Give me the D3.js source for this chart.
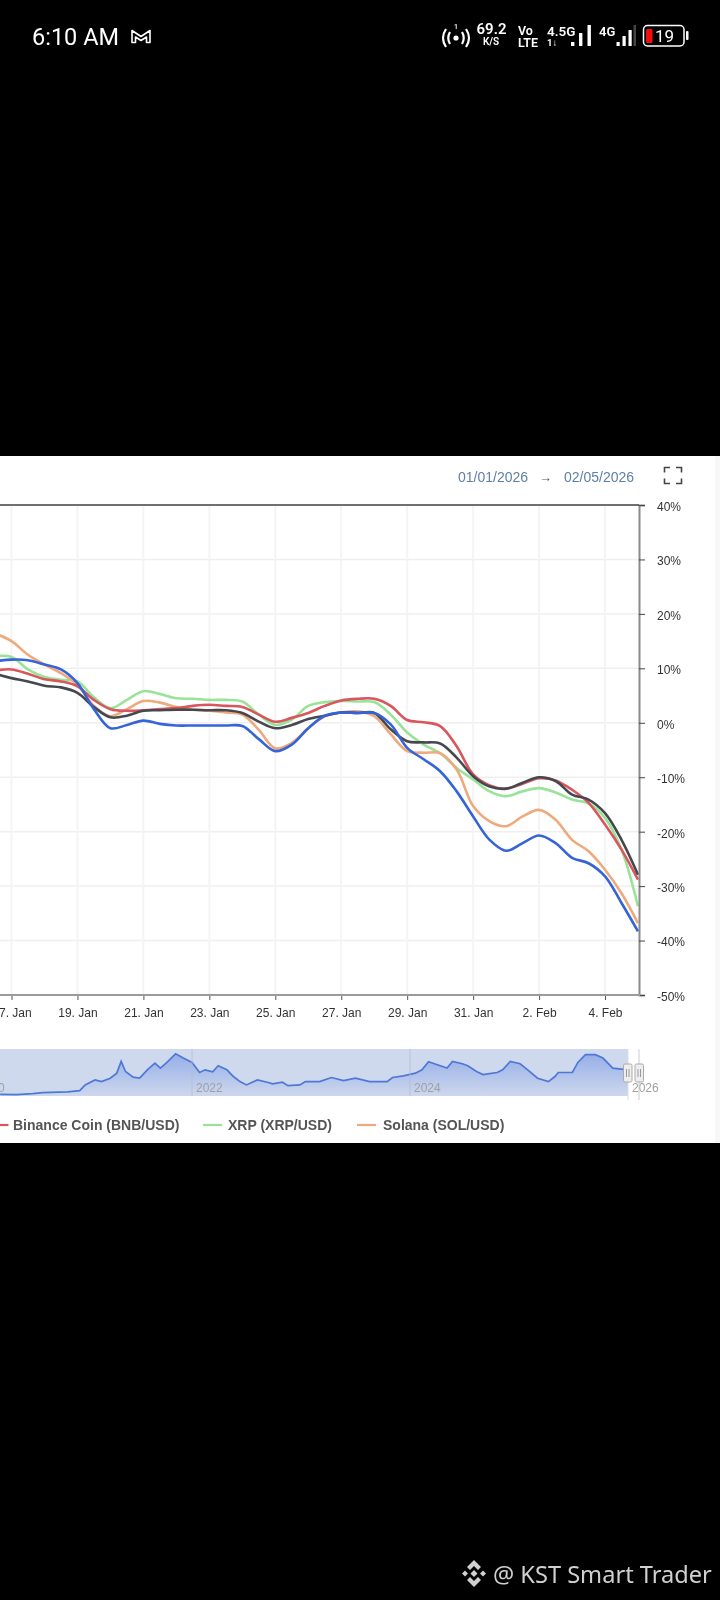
<!DOCTYPE html>
<html><head><meta charset="utf-8">
<style>html,body{margin:0;padding:0;background:#000;overflow:hidden}svg{display:block}</style>
<script src="https://cdn.jsdelivr.net/npm/d3@7"></script>
</head><body>
<svg id="c" width="720" height="1600" xmlns="http://www.w3.org/2000/svg"></svg>
<script>
// half-day samples, 16 Jan 12:00 to 5 Feb 00:00 (40 points)
const startDate = Date.UTC(2026,0,16,12);
const bitcoin = [9,8.2,7.6,6.8,6.5,5.5,2.9,1,1.3,2.2,2.3,2.4,2.4,2.3,2.3,1.8,0.2,-1,-0.4,0.7,1.3,1.9,1.8,
  1.8,-1.2,-3.4,-3.6,-3.8,-6.4,-9.8,-11.7,-12.1,-11,-10,-10.7,-13.2,-14.1,-16.6,-21.5,-27.9];
const ethereum = [11.3,11.6,11.5,10.7,9.8,7.3,2.5,-1,-0.4,0.4,-0.2,-0.5,-0.5,-0.5,-0.5,-0.6,-3,-5.2,-4,-1,1.3,1.9,1.8,
  1.8,-0.3,-4.6,-6.7,-8.9,-12.6,-17.2,-21.5,-23.5,-22.1,-20.7,-22.1,-24.8,-25.8,-28.2,-33.1,-38.3];
const binance = [9.6,9.8,9,8,7.6,6.7,4.2,2.5,2.2,2.3,2.5,2.7,3.1,3.3,3.1,2.9,1.5,0.2,0.9,1.8,3.1,4.1,4.4,
  4.4,3.1,0.5,0.1,-0.6,-4.3,-9.5,-11.5,-12.1,-11.2,-10.2,-10.6,-12.3,-14.7,-18.7,-23.3,-28.8];
const xrp = [12.2,12.1,9.8,8.4,7.9,7.6,4.7,2.7,4.2,5.8,5.3,4.5,4.4,4.2,4.2,3.9,1.5,-0.4,0.6,3.1,3.8,4,3.9,
  3.8,1.5,-1.8,-4,-5.6,-8.3,-10.4,-12.6,-13.5,-12.6,-12,-12.8,-14.1,-14.8,-17.5,-23.3,-33.7];
const solana = [16.4,15,12.5,10.7,9.1,7,3.1,1.2,2.5,4,3.7,2.9,2.4,2.2,1.9,1.5,-1.3,-4.7,-3.7,-1,1.2,1.9,2.1,
  1.2,-2.1,-5.2,-5.5,-5.6,-8.6,-15.3,-18.1,-19,-17.2,-16,-17.8,-21.5,-23.6,-27,-31.3,-36.8];
const yTicks = [40,30,20,10,0,-10,-20,-30,-40,-50];
const xTickDates = [[0,17],[0,19],[0,21],[0,23],[0,25],[0,27],[0,29],[0,31],[1,2],[1,4]];
// navigator overview (year, % of navigator height)
const navYears = [2020.24,2020.39,2020.54,2020.63,2020.86,2020.97,2021.02,2021.11,2021.17,2021.25,2021.31,2021.35,2021.39,2021.46,2021.52,2021.59,2021.66,2021.71,2021.77,2021.85,2021.92,2022,2022.07,2022.12,2022.19,2022.24,2022.32,2022.38,2022.44,2022.5,2022.6,2022.69,2022.74,2022.83,2022.88,2022.99,2023.04,2023.17,2023.28,2023.39,2023.5,2023.63,2023.79,2023.84,2023.94,2024.05,2024.11,2024.17,2024.25,2024.34,2024.39,2024.48,2024.53,2024.61,2024.67,2024.8,2024.85,2024.92,2025.01,2025.08,2025.17,2025.27,2025.33,2025.36,2025.49,2025.54,2025.61,2025.7,2025.77,2025.86,2025.94,2026];
const navValues = [3.6,2.9,5,7.1,8.6,11.4,23.6,34.3,30.7,37.9,48.6,73.6,52.1,40,37.9,55.7,70,59.3,71.4,90,80.7,71.4,50,55.7,51.4,64.3,55.7,41.4,30.7,23.6,34.3,29.3,25.7,29.3,22.1,23.6,30.7,30.7,39.3,32.9,37.9,30.7,30.7,39.3,42.9,48.6,55.7,72.9,66.4,59.3,73.6,68.6,64.3,52.1,45.7,50,55.7,73.6,68.6,55.7,37.9,30.7,41.4,50,50,71.4,87.9,87.9,80.7,59.3,57.1,55];
const navLabels = [2020,2022,2024,2026];
const legendNames = ["Binance Coin (BNB/USD)","XRP (XRP/USD)","Solana (SOL/USD)"];
const legendColors = ["#d9565e","#98e398","#eeaa7c"];

const svg = d3.select("#c");
const defs = svg.append("defs");
const blur = defs.append("filter").attr("id","soft").attr("x","-2%").attr("y","-2%").attr("width","104%").attr("height","104%");
blur.append("feGaussianBlur").attr("stdDeviation",0.6);
defs.append("clipPath").attr("id","plot").append("rect").attr("x",0).attr("y",505).attr("width",640).attr("height",490);
const grad = defs.append("linearGradient").attr("id","navG").attr("x1",0).attr("y1",0).attr("x2",0).attr("y2",1);
grad.append("stop").attr("offset",0).attr("stop-color","#7092e4").attr("stop-opacity",.6);
grad.append("stop").attr("offset",1).attr("stop-color","#7092e4").attr("stop-opacity",.02);

svg.append("rect").attr("width",720).attr("height",1600).attr("fill","#000");
const panel = svg.append("g").attr("filter","url(#soft)");
panel.append("rect").attr("x",-5).attr("y",456).attr("width",730).attr("height",687).attr("fill","#fff");
panel.append("rect").attr("x",715).attr("y",456).attr("width",10).attr("height",687).attr("fill","#f7f7f7");

const x = d3.scaleUtc().domain([Date.UTC(2026,0,17),Date.UTC(2026,1,5)]).range([11.5,638]);
const y = d3.scaleLinear().domain([-50,40]).range([995,505]);
const dates = d3.range(bitcoin.length).map(i=>new Date(startDate+i*12*3600e3));
const tickDates = xTickDates.map(d=>new Date(Date.UTC(2026,d[0],d[1])));
const font = "'Liberation Sans',Arial,sans-serif";

// grid
panel.append("g").selectAll("line").data(yTicks).join("line")
  .attr("x1",0).attr("x2",639).attr("y1",d=>y(d)).attr("y2",d=>y(d)).attr("stroke","#efefef").attr("stroke-width",1.5);
panel.append("g").selectAll("line").data(tickDates).join("line")
  .attr("x1",d=>x(d)).attr("x2",d=>x(d)).attr("y1",505).attr("y2",995).attr("stroke","#f4f4f4").attr("stroke-width",2);

// series
const line = d3.line().x((d,i)=>x(dates[i])).y(d=>y(d)).curve(d3.curveCatmullRom.alpha(0.5));
const seriesDraw = [[xrp,"#98e398"],[solana,"#eeaa7c"],[binance,"#d9565e"],[bitcoin,"#444a50"],[ethereum,"#3563d8"]];
panel.append("g").attr("clip-path","url(#plot)").selectAll("path").data(seriesDraw).join("path")
  .attr("d",d=>line(d[0])).attr("fill","none").attr("stroke",d=>d[1]).attr("stroke-width",2.6);

// axes
const yAxis = d3.axisRight(y).tickValues(yTicks).tickFormat(d=>d+"%").tickSize(6).tickPadding(12);
const gy = panel.append("g").attr("transform","translate(639,0)").call(yAxis);
gy.select(".domain").attr("stroke","#8a8a8a").attr("stroke-width",2);
gy.selectAll(".tick line").attr("stroke","#444");
gy.selectAll("text").attr("font-family",font).attr("font-size",12).attr("fill","#333").attr("dy","0.45em");
const xAxis = d3.axisBottom(x).tickValues(tickDates).tickFormat(d3.utcFormat("%-d. %b")).tickSize(5).tickPadding(8);
const gx = panel.append("g").attr("transform","translate(0,995)").call(xAxis);
gx.select(".domain").remove();
gx.selectAll(".tick line").attr("stroke","#555");
gx.selectAll("text").attr("font-family",font).attr("font-size",12).attr("fill","#333");
panel.append("line").attr("x1",0).attr("x2",640).attr("y1",995).attr("y2",995).attr("stroke","#9a9a9a").attr("stroke-width",2);
panel.append("line").attr("x1",0).attr("x2",639).attr("y1",505).attr("y2",505).attr("stroke","#444").attr("stroke-width",1.6);

// date range
const rangeColor = "#5f7fa8";
panel.append("text").text("01/01/2026").attr("x",458).attr("y",482).attr("font-family",font).attr("font-size",14).attr("fill",rangeColor);
panel.append("text").text("→").attr("x",539).attr("y",482).attr("font-family",font).attr("font-size",13).attr("fill","#556");
panel.append("text").text("02/05/2026").attr("x",564).attr("y",482).attr("font-family",font).attr("font-size",14).attr("fill",rangeColor);
panel.append("path").attr("d","M664.5 472.5V467.5H670 M676 467.5H681.5V472.5 M681.5 478.5V483.5H676 M670 483.5H664.5V478.5")
  .attr("fill","none").attr("stroke","#444").attr("stroke-width",1.6);

// navigator
const nx = d3.scaleLinear().domain([2020,2026]).range([-26,628]);
const ny = d3.scaleLinear().domain([0,100]).range([1096,1049]);
panel.append("rect").attr("x",0).attr("y",1049).attr("width",628).attr("height",47).attr("fill","#cfd9ee");
const nArea = d3.area().x((d,i)=>nx(navYears[i])).y0(1096).y1(d=>ny(d));
const nLine = d3.line().x((d,i)=>nx(navYears[i])).y(d=>ny(d));
panel.append("path").attr("d",nArea(navValues)).attr("fill","url(#navG)");
panel.append("path").attr("d",nLine(navValues)).attr("fill","none").attr("stroke","#4f77d6").attr("stroke-width",1.7);
panel.append("g").selectAll("line").data(navLabels.slice(1,3)).join("line")
  .attr("x1",d=>nx(d)).attr("x2",d=>nx(d)).attr("y1",1049).attr("y2",1096).attr("stroke","#b4bdcc").attr("stroke-width",.8);
panel.append("g").selectAll("text").data(navLabels).join("text").text(d=>d)
  .attr("x",d=>nx(d)+4).attr("y",1092).attr("font-family",font).attr("font-size",12).attr("fill","#a0a0a0");
panel.append("line").attr("x1",639).attr("x2",639).attr("y1",1049).attr("y2",1100).attr("stroke","#ccc");
panel.append("line").attr("x1",628).attr("x2",628).attr("y1",1049).attr("y2",1100).attr("stroke","#ddd");
[623.5,635].forEach(hx=>{
  panel.append("rect").attr("x",hx).attr("y",1064).attr("width",8.5).attr("height",18).attr("rx",1.5).attr("fill","#eee").attr("stroke","#aaa");
  panel.append("line").attr("x1",hx+3).attr("x2",hx+3).attr("y1",1069).attr("y2",1077).attr("stroke","#999");
  panel.append("line").attr("x1",hx+5.5).attr("x2",hx+5.5).attr("y1",1069).attr("y2",1077).attr("stroke","#999");
});

// legend
const legendLineX = [-10,203,357], legendTextX = [13,228,383];
legendNames.forEach((n,i)=>{
  panel.append("line").attr("x1",legendLineX[i]).attr("x2",i?legendLineX[i]+19:8.5).attr("y1",1125).attr("y2",1125).attr("stroke",legendColors[i]).attr("stroke-width",2.2);
  panel.append("text").text(n).attr("x",legendTextX[i]).attr("y",1130).attr("font-family",font).attr("font-size",14).attr("font-weight",700).attr("fill","#555");
});

// status bar
const st = svg.append("g").attr("fill","#fff");
const sf = "Roboto,sans-serif";
const T=(t,xx,yy,s,w,a)=>st.append("text").text(t).attr("x",xx).attr("y",yy).attr("font-family",sf).attr("font-size",s).attr("font-weight",w||400).attr("text-anchor",a||"start");
T("6:10 AM",32,44.5,23.5,400);
st.append("path").attr("d","M132 42.5V30.5L141 36.5L150 30.5V42.5H146.5V37L141 40.5L135.5 37V42.5Z").attr("fill","none").attr("stroke","#fff").attr("stroke-width",1.6).attr("stroke-linejoin","round");
st.append("circle").attr("cx",456).attr("cy",38).attr("r",2.6);
st.append("path").attr("d","M450 32Q446.5 38 450 44 M462 32Q465.5 38 462 44 M446 29Q440 38 446 47 M466 29Q472 38 466 47").attr("fill","none").attr("stroke","#fff").attr("stroke-width",2.2);
T("1",456,28.5,7,500,"middle");
T("69.2",491.5,34,15,600,"middle");
T("K/S",491,45,10,600,"middle");
T("Vo",518,35,12.5,600);
T("LTE",518,47,12.5,600);
T("4.5G",547,36,13.5,600);
T("1↓",547,46,9.5,700);
const bars1=[[571,4],[579,13],[587.5,21]];
const bars2=[[616.5,4],[622.5,10],[628.5,16]];
bars1.forEach(d=>st.append("rect").attr("x",d[0]).attr("y",46-d[1]).attr("width",3.4).attr("height",d[1]));
T("4G",599,36,13,600);
bars2.forEach(d=>st.append("rect").attr("x",d[0]).attr("y",46-d[1]).attr("width",3.2).attr("height",d[1]));
st.append("rect").attr("x",633.5).attr("y",25).attr("width",2.5).attr("height",21).attr("fill","#444");
st.append("rect").attr("x",643.5).attr("y",25.5).attr("width",40.5).attr("height",20.5).attr("rx",4).attr("fill","none").attr("stroke","#fff").attr("stroke-width",1.5);
st.append("rect").attr("x",646).attr("y",29).attr("width",6.5).attr("height",14).attr("rx",1.5).attr("fill","#f01010");
T("19",655,42,17,400);
st.append("rect").attr("x",686).attr("y",31).attr("width",2.5).attr("height",9).attr("rx",1);

// watermark
const w = svg.append("g").attr("fill","#d0d0d0");
w.append("text").text("@ KST Smart Trader").attr("x",493).attr("y",1583).attr("font-family","'Noto Sans',sans-serif").attr("font-size",23.6);
w.append("path").attr("d","M474 1560L481 1567L478 1570L474 1566L470 1570L467 1567Z M474 1587L467 1580L470 1577L474 1581L478 1577L481 1580Z M474 1570L477.5 1573.5L474 1577L470.5 1573.5Z M465 1570.5L468 1573.5L465 1576.5L462 1573.5Z M483 1570.5L486 1573.5L483 1576.5L480 1573.5Z");
</script>
</body></html>
